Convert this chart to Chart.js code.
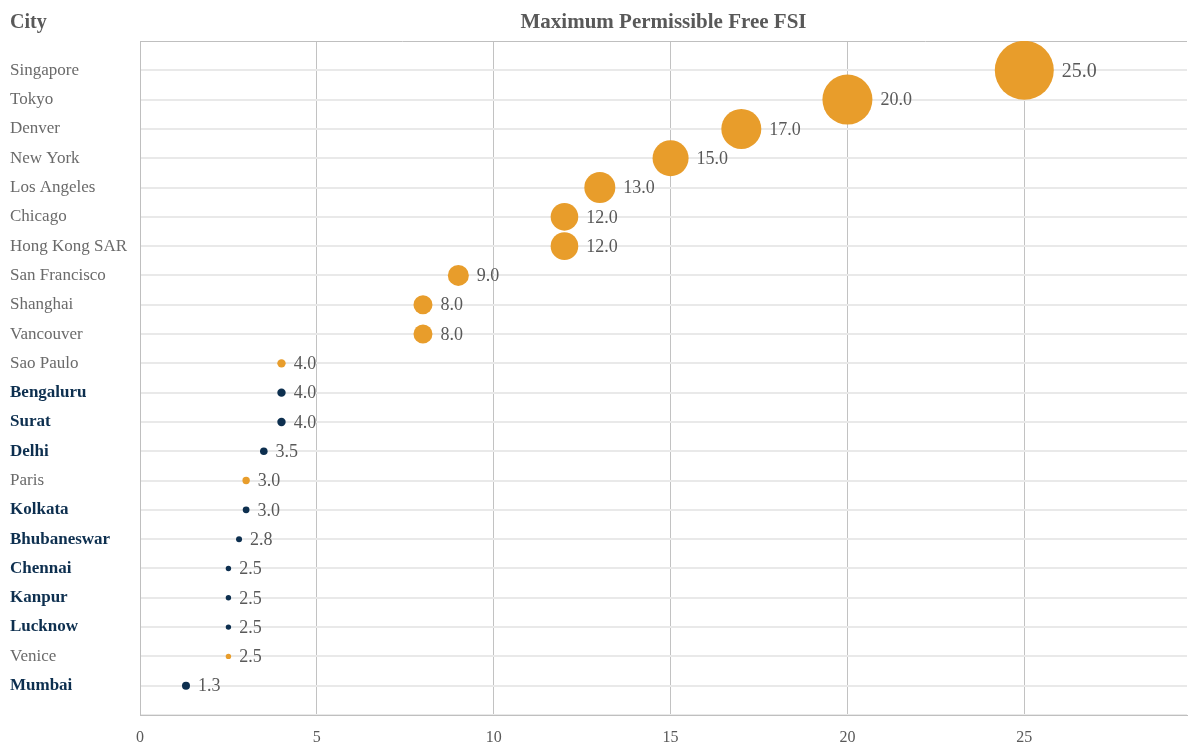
<!DOCTYPE html>
<html>
<head>
<meta charset="utf-8">
<script src="https://cdn.jsdelivr.net/npm/chart.js@4"></script>
<style>
  html, body { margin: 0; background: #ffffff; }
  canvas { display: block; }
</style>
</head>
<body>
<canvas id="fsiChart" width="1189" height="742"></canvas>
<script>
// Cities, top to bottom
const cities = [
  'Singapore', 'Tokyo', 'Denver', 'New York', 'Los Angeles', 'Chicago',
  'Hong Kong SAR', 'San Francisco', 'Shanghai', 'Vancouver', 'Sao Paulo',
  'Bengaluru', 'Surat', 'Delhi', 'Paris', 'Kolkata', 'Bhubaneswar',
  'Chennai', 'Kanpur', 'Lucknow', 'Venice', 'Mumbai'
];

// Maximum permissible free FSI for each city
const fsiValues = [
  25.0, 20.0, 17.0, 15.0, 13.0, 12.0,
  12.0, 9.0, 8.0, 8.0, 4.0,
  4.0, 4.0, 3.5, 3.0, 3.0, 2.8,
  2.5, 2.5, 2.5, 2.5, 1.3
];

// Bubble radius for each city
const bubbleSizes = [
  29.5, 25, 20, 18, 15.5, 13.8,
  13.8, 10.5, 9.5, 9.5, 4.2,
  4.2, 4.2, 3.8, 3.7, 3.4, 3.0,
  2.7, 2.7, 2.7, 2.7, 4.0
];

// Indian cities are highlighted
const indianCities = [
  'Bengaluru', 'Surat', 'Delhi', 'Kolkata', 'Bhubaneswar',
  'Chennai', 'Kanpur', 'Lucknow', 'Mumbai'
];

// X axis range and tick step
const xRange = [0, 29.6];
const xStep = 5;

const FONT = '"Liberation Serif", "Times New Roman", serif';
const ORANGE = '#E89D2B';
const NAVY = '#0D2F4F';
const GREY_TEXT = '#595959';

const points = cities.map((city, i) => ({
  x: fsiValues[i],
  y: i,
  r: bubbleSizes[i],
  india: indianCities.includes(city)
}));

// Headings: the axis caption at the top left, and the title centred over the plot
const headings = {
  id: 'headings',
  afterDraw(chart) {
    const { ctx, chartArea } = chart;
    ctx.save();
    ctx.fillStyle = GREY_TEXT;
    ctx.textBaseline = 'middle';
    ctx.textAlign = 'left';
    ctx.font = `bold 20px ${FONT}`;
    ctx.fillText('City', 10, 23);
    ctx.textAlign = 'center';
    ctx.font = `bold 21px ${FONT}`;
    ctx.fillText('Maximum Permissible Free FSI', (chartArea.left + chartArea.right) / 2, 23);
    ctx.restore();
  }
};

// Value labels to the right of each bubble
const valueLabels = {
  id: 'valueLabels',
  afterDatasetsDraw(chart) {
    const { ctx } = chart;
    ctx.save();
    ctx.fillStyle = GREY_TEXT;
    ctx.textBaseline = 'middle';
    ctx.textAlign = 'left';
    chart.data.datasets.forEach((ds, di) => {
      const meta = chart.getDatasetMeta(di);
      meta.data.forEach((el, i) => {
        const raw = ds.data[i];
        const r = el.options.radius;
        ctx.font = `${r > 25 ? 20 : 18}px ${FONT}`;
        ctx.fillText(raw.x.toFixed(1), el.x + r + 8, el.y + 1);
      });
    });
    ctx.restore();
  }
};

new Chart(document.getElementById('fsiChart'), {
  type: 'bubble',
  data: {
    datasets: [
      {
        label: 'International',
        data: points.filter(p => !p.india),
        backgroundColor: ORANGE,
        borderWidth: 0
      },
      {
        label: 'India',
        data: points.filter(p => p.india),
        backgroundColor: NAVY,
        borderWidth: 0
      }
    ]
  },
  options: {
    responsive: false,
    animation: false,
    devicePixelRatio: 1,
    layout: {
      autoPadding: false,
      padding: { top: 41, left: 10, right: 2, bottom: 0 }
    },
    plugins: {
      legend: { display: false },
      tooltip: { enabled: false },
      title: { display: false }
    },
    scales: {
      x: {
        type: 'linear',
        min: xRange[0],
        max: xRange[1],
        ticks: {
          stepSize: xStep,
          includeBounds: false,
          color: GREY_TEXT,
          font: { family: FONT, size: 16 },
          padding: 13
        },
        grid: { color: '#c2c2c2', drawTicks: false },
        border: { color: '#bfbfbf' },
        afterFit(scale) {
          scale.height = 27;
          scale.paddingLeft = 0;
          scale.paddingRight = 0;
        }
      },
      y: {
        type: 'linear',
        reverse: true,
        min: -1,
        max: cities.length,
        ticks: {
          stepSize: 1,
          autoSkip: false,
          crossAlign: 'far',
          callback: (v) => cities[v] ?? '',
          font: (ctx) => {
            const name = cities[ctx.tick && ctx.tick.value];
            return indianCities.includes(name)
              ? { family: FONT, size: 17, weight: 'bold' }
              : { family: FONT, size: 17, weight: 'normal' };
          },
          color: (ctx) => {
            const name = cities[ctx.tick && ctx.tick.value];
            return indianCities.includes(name) ? NAVY : '#6a6a6a';
          }
        },
        grid: {
          drawTicks: false,
          color: (ctx) => (ctx.tick && ctx.tick.value === -1) ? '#bfbfbf' : '#e9e9e9',
          lineWidth: (ctx) => (ctx.tick && ctx.tick.value === -1) ? 1 : 2
        },
        border: { color: '#bfbfbf' },
        afterFit(scale) {
          scale.width = 130;
          scale.paddingTop = 0;
          scale.paddingBottom = 0;
        }
      }
    }
  },
  plugins: [headings, valueLabels]
});
</script>
</body>
</html>
